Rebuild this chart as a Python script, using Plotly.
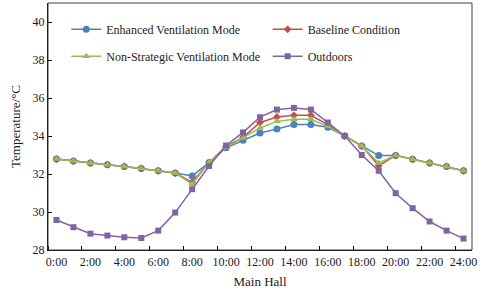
import plotly.graph_objects as go

hours = list(range(25))
tick_labels = [f"{h}:00" for h in range(0, 25, 2)]

enhanced = [32.79, 32.68, 32.58, 32.49, 32.40, 32.29, 32.17, 32.05, 31.90, 32.60,
            33.38, 33.77, 34.16, 34.37, 34.60, 34.60, 34.46, 34.00, 33.47, 32.97,
            32.98, 32.78, 32.58, 32.40, 32.17]
baseline = [32.79, 32.68, 32.58, 32.49, 32.40, 32.29, 32.17, 32.05, 31.56, 32.60,
            33.45, 33.93, 34.71, 35.00, 35.09, 35.09, 34.60, 34.00, 33.48, 32.43,
            32.98, 32.78, 32.58, 32.40, 32.17]
non_strategic = [32.79, 32.68, 32.58, 32.49, 32.40, 32.29, 32.17, 32.05, 31.47, 32.60,
                 33.40, 33.90, 34.42, 34.77, 34.88, 34.88, 34.51, 34.00, 33.48, 32.58,
                 32.98, 32.78, 32.58, 32.40, 32.17]
outdoors = [29.58, 29.20, 28.86, 28.76, 28.67, 28.63, 29.02, 29.97, 31.20, 32.42,
            33.50, 34.19, 34.99, 35.39, 35.48, 35.39, 34.71, 34.00, 33.00, 32.17,
            30.99, 30.20, 29.50, 29.02, 28.60]

series = [
    ("Enhanced Ventilation Mode", enhanced, "#4F81BD", "circle", 7, "legend", "g1"),
    ("Baseline Condition", baseline, "#C0504D", "diamond", 6, "legend2", "g2"),
    ("Non-Strategic Ventilation Mode", non_strategic, "#9BBB59", "triangle-up", 7, "legend", "g3"),
    ("Outdoors", outdoors, "#8064A2", "square", 6, "legend2", "g4"),
]

fig = go.Figure()
for name, vals, color, sym, size, leg, grp in series:
    fig.add_trace(go.Scatter(
        x=hours, y=vals, name=name, mode="lines+markers",
        line=dict(color=color, width=1.5),
        marker=dict(color=color, symbol=sym, size=size),
        legend=leg, legendgroup=grp,
    ))

serif = "Liberation Serif, Times New Roman, serif"
font = dict(family=serif, size=12, color="#1a1a1a")
title_font = dict(family=serif, size=13, color="#1a1a1a")

legend_common = dict(
    bgcolor="rgba(0,0,0,0)", font=font, orientation="v",
    tracegroupgap=8, xanchor="left", yanchor="top", itemwidth=30,
)

fig.update_layout(
    width=480, height=291,
    margin=dict(l=48, r=8, t=3, b=41),
    paper_bgcolor="white", plot_bgcolor="white",
    font=font,
    showlegend=True,
    legend=dict(x=0.043, y=0.952, **legend_common),
    legend2=dict(x=0.518, y=0.952, **legend_common),
    xaxis=dict(
        range=[-0.5, 24.5], tickmode="array",
        tickvals=list(range(0, 25, 2)), ticktext=tick_labels,
        tickfont=font,
        ticks="", showgrid=False, zeroline=False,
        showline=True, linecolor="black", linewidth=1.3,
        minor=dict(tickmode="array", tickvals=[i + 0.5 for i in range(-1, 24, 2)],
                   ticks="inside", ticklen=4, tickcolor="black", showgrid=False),
        title=dict(text="Main Hall", font=title_font, standoff=9),
    ),
    yaxis=dict(
        range=[28, 41], tickmode="array", tickvals=list(range(28, 41, 2)),
        tickfont=font,
        ticks="inside", ticklen=4, tickcolor="black",
        showgrid=False, zeroline=False,
        showline=True, linecolor="black", linewidth=1.3,
        title=dict(text="Temperature/°C", font=title_font, standoff=8),
    ),
    shapes=[dict(type="rect", xref="paper", yref="paper", x0=0, y0=0, x1=1, y1=1,
                 line=dict(color="#404040", width=1), layer="above")],
)

fig.write_html("out.html", config={"displayModeBar": False},
               post_script="document.body.style.margin='0';")
